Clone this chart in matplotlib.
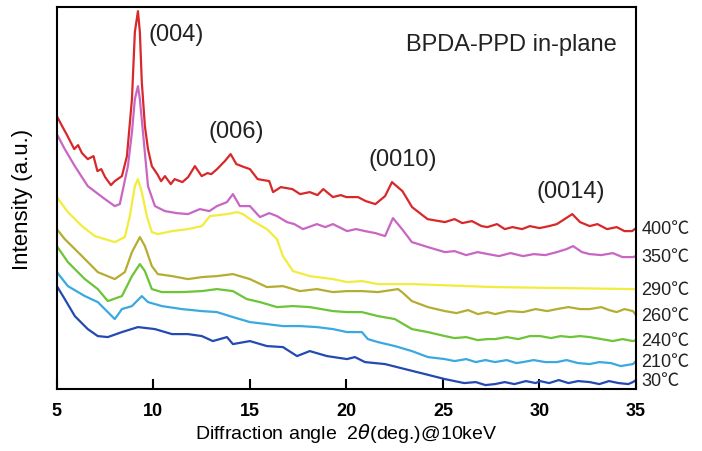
import numpy as np
from matplotlib import pyplot as plt

plt.rcParams["font.family"] = ["Liberation Sans", "Noto Sans CJK JP", "DejaVu Sans"]

# diffraction angle (deg) and intensity (a.u.) for each annealing temperature
x_400 = [5.0, 5.3, 5.5, 5.9, 6.1, 6.3, 6.6, 6.9, 7.1, 7.3, 7.5, 7.8, 8.0, 8.37, 8.63, 8.89, 9.04,
         9.2, 9.3, 9.4, 9.56, 9.72, 9.92, 10.2, 10.4, 10.6, 10.9, 11.1, 11.5, 11.8, 12.15, 12.5,
         12.8, 13.0, 13.3, 13.7, 14.0, 14.3, 14.7, 15.0, 15.4, 16.0, 16.2, 16.6, 17.2, 17.6, 18.1,
         18.5, 18.8, 19.3, 19.7, 20.0, 20.6, 21.0, 21.5, 22.0, 22.36, 22.9, 23.4, 24.2, 25.1, 25.6,
         26.0, 26.5, 27.0, 27.3, 27.8, 28.2, 28.6, 29.1, 29.5, 30.0, 30.5, 30.9, 31.3, 31.7, 32.1,
         32.6, 33.0, 33.5, 34.0, 34.4, 34.8, 35.0]
y_400 = [273, 262, 255, 240, 244, 236, 230, 233, 218, 220, 212, 204, 208, 213, 233, 290, 357,
         378, 357, 307, 263, 240, 223, 215, 208, 213, 205, 210, 207, 212, 223, 213,
         216, 215, 220, 228, 235, 225, 222, 220, 210, 208, 197, 202, 200, 195, 197,
         194, 200, 192, 194, 192, 192, 188, 185, 193, 207, 198, 182, 170, 167, 170,
         166, 168, 163, 162, 165, 160, 162, 160, 163, 161, 163, 165, 170, 175, 167,
         163, 165, 160, 162, 158, 158, 161]

x_350 = [5.0, 5.41, 5.93, 6.6, 7.49, 8.0, 8.26, 8.68, 8.89, 9.04, 9.2, 9.3, 9.46, 9.72, 10.08,
         10.6, 11.2, 11.79, 12.41, 12.9, 13.29, 13.81, 14.12, 14.48, 15.0, 15.52, 16.0, 16.4,
         16.92, 17.3, 17.75, 18.47, 18.9, 19.3, 20.03, 20.5, 20.96, 21.5, 22.0, 22.41, 22.88,
         23.39, 24.22, 25.1, 25.6, 26.2, 26.8, 27.33, 27.9, 28.5, 29.15, 29.7, 30.3, 30.9, 31.4,
         31.74, 32.2, 32.6, 33.2, 33.8, 34.3, 34.84, 35.0]
y_350 = [255, 240, 223, 203, 190, 183, 185, 223, 257, 290, 303, 290, 257, 203, 183,
         178, 176, 175, 180, 178, 183, 187, 195, 183, 183, 172, 176, 173,
         167, 165, 160, 165, 162, 165, 158, 160, 158, 156, 153, 171, 160,
         147, 142, 137, 138, 134, 137, 135, 133, 136, 133, 135, 134, 137, 140,
         143, 137, 135, 134, 136, 132, 132, 133]

x_290 = [5.0, 5.57, 6.3, 6.97, 8.0, 8.52, 8.78, 9.04, 9.2, 9.4, 9.66, 9.92, 10.23, 10.96, 11.79,
         12.51, 12.93, 13.81, 14.33, 14.64, 15.16, 15.88, 16.4, 16.71, 17.23, 18.1, 19.3, 20.03,
         20.8, 21.63, 23.39, 27.7, 34.84, 35.0]
y_290 = [192, 177, 163, 153, 147, 152, 173, 203, 210, 197, 173, 157, 155, 158, 160,
         163, 173, 175, 177, 175, 168, 160, 150, 133, 118, 113, 110, 107,
         108, 105, 105, 102, 100, 100]

x_260 = [5.0, 5.41, 6.3, 7.12, 8.0, 8.52, 8.89, 9.3, 9.56, 9.92, 10.23, 10.96, 11.79, 12.51,
         13.29, 14.12, 15.0, 15.88, 16.71, 17.59, 18.47, 19.3, 20.03, 20.8, 21.63, 22.67, 22.88,
         23.39, 24.22, 25.1, 25.7, 26.3, 26.81, 27.3, 27.7, 28.4, 29.15, 29.8, 30.4, 30.9, 31.5,
         32.1, 32.6, 33.2, 33.6, 34.0, 34.4, 34.84, 35.0]
y_260 = [160, 150, 133, 117, 110, 117, 137, 152, 143, 123, 115, 113, 110, 112,
         113, 115, 110, 102, 103, 98, 100, 97, 98, 98, 97, 100, 97,
         88, 82, 78, 76, 79, 75, 77, 75, 78, 77, 80, 78, 80, 82,
         80, 80, 82, 79, 77, 80, 78, 74]

x_240 = [5.0, 5.57, 6.45, 7.12, 7.64, 8.37, 8.89, 9.3, 9.56, 9.92, 10.44, 10.75, 11.48, 12.51,
         13.29, 14.12, 14.84, 15.52, 16.4, 17.23, 18.1, 19.3, 20.03, 20.8, 21.63, 22.51, 23.39,
         24.22, 25.1, 25.6, 26.2, 26.8, 27.3, 27.7, 28.3, 28.9, 29.5, 30.03, 30.6, 31.1, 31.6,
         32.1, 32.6, 33.2, 33.8, 34.3, 34.84, 35.0]
y_240 = [143, 127, 110, 100, 88, 93, 113, 125, 118, 100, 97, 97, 97, 98,
         100, 98, 90, 87, 82, 83, 82, 78, 77, 77, 73, 70, 60,
         57, 53, 51, 52, 49, 50, 50, 52, 50, 53, 53, 51, 53, 52,
         53, 52, 50, 48, 50, 48, 49]

x_210 = [5.0, 5.57, 6.45, 7.12, 7.64, 8.0, 8.37, 8.89, 9.4, 9.72, 10.44, 11.48, 12.51, 13.29,
         14.12, 15.0, 15.88, 16.71, 17.59, 18.47, 19.3, 20.03, 20.8, 21.11, 21.63, 22.51, 23.39,
         24.22, 25.1, 25.6, 26.2, 26.7, 27.2, 27.7, 28.3, 28.8, 29.15, 29.7, 30.3, 30.9, 31.4,
         32.0, 32.6, 33.1, 33.7, 34.2, 34.84, 35.0]
y_210 = [117, 103, 93, 87, 77, 70, 80, 83, 93, 87, 83, 80, 78, 77,
         72, 67, 65, 63, 63, 62, 60, 57, 57, 50, 47, 43, 38,
         32, 30, 28, 30, 27, 29, 27, 29, 26, 27, 29, 27, 27, 29,
         26, 25, 27, 26, 23, 25, 28]

x_30 = [5.0, 5.41, 5.93, 6.6, 7.12, 7.64, 8.37, 9.2, 10.08, 10.96, 11.79, 12.51, 13.08, 13.81,
        14.12, 15.0, 15.88, 16.71, 17.44, 18.1, 18.99, 20.03, 20.44, 20.96, 22.0, 23.03, 24.07,
        25.1, 25.6, 26.1, 26.7, 27.2, 27.7, 28.2, 28.7, 29.3, 29.8, 30.03, 30.5, 31.0, 31.5,
        32.0, 32.6, 33.1, 33.6, 34.1, 34.6, 34.84, 35.0]
y_30 = [103, 90, 73, 60, 53, 52, 57, 62, 60, 55, 55, 53, 48, 52,
        45, 48, 43, 42, 33, 38, 33, 30, 32, 27, 25, 20, 15,
        10, 8, 6, 7, 4, 5, 7, 5, 8, 6, 8, 6, 9, 6,
        8, 7, 5, 8, 6, 5, 7, 9]

series = [
    ("400℃", x_400, y_400, "#d8282a"),
    ("350℃", x_350, y_350, "#c966c4"),
    ("290℃", x_290, y_290, "#f2ec3c"),
    ("260℃", x_260, y_260, "#b5ad32"),
    ("240℃", x_240, y_240, "#6cc437"),
    ("210℃", x_210, y_210, "#3aa9e0"),
    ("30℃", x_30, y_30, "#2349b3"),
]

peaks = ["(004)", "(006)", "(0010)", "(0014)"]
peak_x = [11.2, 14.3, 22.9, 31.6]
peak_y = [355, 258, 230, 198]

fig = plt.figure(figsize=(7.02, 4.52), dpi=100, facecolor="white")
ax = fig.add_axes([0.081, 0.137, 0.825, 0.845])

for label, xs, ys, color in series:
    ax.plot(xs, ys, color=color, lw=1.6)
    ax.annotate(label, xy=(1.0, ys[-1]), xycoords=("axes fraction", "data"),
                xytext=(4, 0), textcoords="offset points",
                ha="left", va="center", fontsize=13, color="#222222",
                annotation_clip=False)

for txt, px, py in zip(peaks, peak_x, peak_y):
    ax.text(px, py, txt, ha="center", va="center", fontsize=17, color="#222222")

ax.text(0.967, 0.903, "BPDA-PPD in-plane", transform=ax.transAxes,
        ha="right", va="center", fontsize=17, color="#222222")

ax.set_xlim(5, 35)
ax.set_ylim(0, 382)
ax.set_xticks([5, 10, 15, 20, 25, 30, 35])
ax.set_yticks([])
ax.tick_params(axis="x", direction="in", length=7, width=1.5, pad=9, labelsize=13)
for lab in ax.get_xticklabels():
    lab.set_fontweight("bold")
for sp in ax.spines.values():
    sp.set_linewidth(1.5)

ax.set_xlabel(r"Diffraction angle  2$\theta$(deg.)@10keV", fontsize=14, labelpad=2)
ax.set_ylabel("Intensity (a.u.)", fontsize=16, labelpad=17)

plt.savefig("out.png", dpi=100, facecolor="white")
